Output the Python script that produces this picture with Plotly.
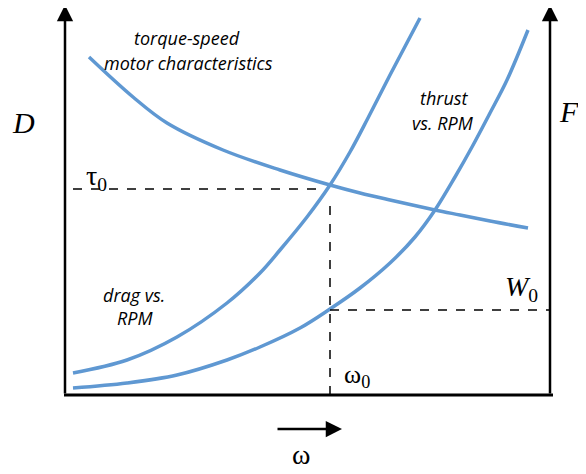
import plotly.graph_objects as go

# Curve data (abstract units: omega along x, drag/thrust/torque along y)
drag_w = [8, 62, 112, 162, 195, 215, 242, 265, 285, 303, 325, 355]
drag_v = [22, 35, 58, 92, 122, 145, 178, 210, 243, 277, 320, 377]

thrust_w = [8, 62, 112, 162, 195, 235, 265, 295, 325, 350, 370, 390, 407, 425, 442, 463]
thrust_v = [7, 12, 20, 35, 48, 67, 86, 107, 132, 158, 185, 218, 248, 282, 315, 365]

torque_w = [24, 68, 102, 158, 215, 265, 295, 325, 370, 395, 425, 463]
torque_v = [338, 298, 272, 245, 225, 210, 202, 195, 185, 180, 174, 167]

# Operating point values
omega0 = 265
tau0 = 206
W0 = 85
axis_right = 485

blue = "#5f98d2"
fig = go.Figure()
for w, v in [(drag_w, drag_v), (thrust_w, thrust_v), (torque_w, torque_v)]:
    fig.add_trace(go.Scatter(x=w, y=v, mode="lines",
                             line=dict(color=blue, width=3.5, shape="spline", smoothing=1.0),
                             hoverinfo="skip", showlegend=False))

# Dashed guide lines
dash = dict(color="black", width=1.5, dash="dash")
fig.add_trace(go.Scatter(x=[8, 253], y=[tau0, tau0], mode="lines", line=dash, showlegend=False))
fig.add_trace(go.Scatter(x=[omega0, omega0], y=[0, 197], mode="lines", line=dash, showlegend=False))
fig.add_trace(go.Scatter(x=[omega0, axis_right], y=[W0, W0], mode="lines", line=dash, showlegend=False))

# Axes
fig.add_shape(type="line", x0=-1, x1=488, y0=0, y1=0, line=dict(color="black", width=3))
arrows = [
    dict(x=0, y=390, ax=0, ay=0),
    dict(x=axis_right, y=390, ax=axis_right, ay=0),
    dict(x=277, y=-34, ax=211, ay=-34),
]
annotations = []
for a in arrows:
    annotations.append(dict(x=a["x"], y=a["y"], ax=a["ax"], ay=a["ay"], xref="x", yref="y",
                            axref="x", ayref="y", showarrow=True, arrowhead=2, arrowsize=1.3,
                            arrowwidth=2.5, arrowcolor="black", text=""))

serif = "Liberation Serif"
sans = "Open Sans"
texts = [
    ("<i>D</i>", -42, 273, 30, serif),
    ("<i>F</i>", 504, 284, 30, serif),
    ("τ<sub>0</sub>", 31, 218, 28, serif),
    ("<i>W</i><sub>0</sub>", 456, 107, 28, serif),
    ("ω<sub>0</sub>", 292, 19, 26, serif),
    ("ω", 236, -59, 28, serif),
    ("<i>torque-speed</i>", 122, 357, 18, sans),
    ("<i>motor characteristics</i>", 123, 332, 18, sans),
    ("<i>thrust</i>", 379, 297, 18, sans),
    ("<i>vs. RPM</i>", 378, 272, 18, sans),
    ("<i>drag vs.</i>", 69, 100, 18, sans),
    ("<i>RPM</i>", 70, 77, 18, sans),
]
for t, x, y, s, f in texts:
    annotations.append(dict(x=x, y=y, xref="x", yref="y", text=t, showarrow=False,
                            font=dict(family=f, size=s, color="black")))

fig.update_layout(
    width=578, height=458,
    margin=dict(l=0, r=0, t=0, b=0),
    paper_bgcolor="white", plot_bgcolor="white",
    xaxis=dict(range=[-57, 521], visible=False, fixedrange=True),
    yaxis=dict(range=[-71, 387], visible=False, fixedrange=True),
    annotations=annotations,
)
fig.write_html("out.html")
